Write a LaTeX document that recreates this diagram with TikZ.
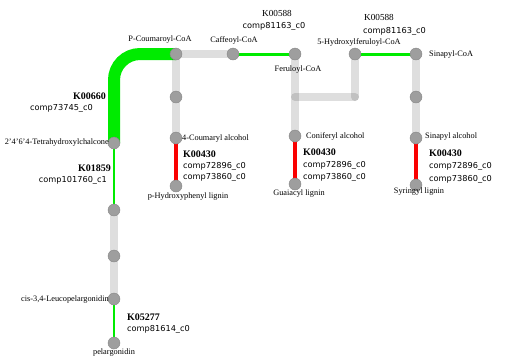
\documentclass[tikz,border=0pt]{standalone}
\usepackage{fontspec}
\setmainfont{Liberation Serif}
\newfontfamily\compfont{DejaVu Sans}
\usetikzlibrary{backgrounds}
\definecolor{pgreen}{RGB}{0,235,0}
\definecolor{pred}{RGB}{250,0,0}
\definecolor{pcirc}{RGB}{158,158,158}
\definecolor{pcircb}{RGB}{135,135,135}
\tikzset{
  met/.style={circle,fill=pcirc,draw=pcircb,line width=0.4pt,minimum size=12pt,inner sep=0pt},
  graylink/.style={line width=8pt,draw=black,draw opacity=0.13,line cap=round},
  thickgreen/.style={line width=12pt,draw=pgreen,rounded corners=26pt},
  thingreen/.style={line width=3pt,draw=pgreen},
  redlink/.style={line width=4.5pt,draw=pred},
  lbl/.style={inner sep=0pt,font=\fontsize{8.3}{9}\selectfont},
  knum/.style={inner sep=0pt,font=\fontsize{10}{11}\selectfont\bfseries},
  kplain/.style={inner sep=0pt,font=\fontsize{9.2}{10}\selectfont},
  comp/.style={inner sep=0pt,font=\compfont\fontsize{8.2}{9}\selectfont},
}
\begin{document}
\begin{tikzpicture}[x=1pt,y=-1pt]
\useasboundingbox (0,0) rectangle (515,360);
% metabolite nodes
\node[met] (pc) at (176,54) {};
\node[met] (caf) at (233,54) {};
\node[met] (fer) at (295,54) {};
\node[met] (hfer) at (355,54) {};
\node[met] (sin) at (416,54) {};
\node[met] (cm) at (176,97) {};
\node[met] (cal) at (176,138) {};
\node[met] (phl) at (176,186) {};
\node[met] (con) at (295,136) {};
\node[met] (gua) at (295,184) {};
\node[met] (sm) at (416,97) {};
\node[met] (sal) at (416,138) {};
\node[met] (syr) at (416,185) {};
\node[met] (chal) at (114,143) {};
\node[met] (n1) at (114,210) {};
\node[met] (n2) at (114,256) {};
\node[met] (leu) at (114,299) {};
\node[met] (pel) at (114,343) {};
\coordinate (j1) at (295,97);
\coordinate (j2) at (355,97);
% connectors
\begin{pgfonlayer}{background}
\draw[thickgreen] (chal.center) |- (pc.center);
\draw[graylink] (pc.center) -- (caf.center);
\draw[thingreen] (caf.center) -- (fer.center);
\draw[thingreen] (hfer.center) -- (sin.center);
\draw[graylink] (pc.center) -- (cm.center);
\draw[graylink] (cm.center) -- (cal.center);
\draw[redlink] (cal.center) -- (phl.center);
\draw[graylink] (fer.center) -- (con.center);
\draw[graylink] (j1) -- (j2);
\draw[graylink] (j2) -- (hfer.center);
\draw[redlink] (con.center) -- (gua.center);
\draw[graylink] (sin.center) -- (sm.center);
\draw[graylink] (sm.center) -- (sal.center);
\draw[redlink] (sal.center) -- (syr.center);
\draw[thingreen,line width=2.5pt] (chal.center) -- (n1.center);
\draw[graylink] (n1.center) -- (n2.center);
\draw[graylink] (n2.center) -- (leu.center);
\draw[thingreen,line width=2.5pt] (leu.center) -- (pel.center);
\end{pgfonlayer}
% metabolite labels
\node[lbl] (tpc) at (160,40) {P-Coumaroyl-CoA};
\node[lbl] (tcaf) at (234,40) {Caffeoyl-CoA};
\node[lbl] (tfer) at (298,70) {Feruloyl-CoA};
\node[lbl] (thfer) at (359,42) {5-Hydroxylferuloyl-CoA};
\node[lbl,anchor=west] (tsin) at (429,55) {Sinapyl-CoA};
\node[lbl,anchor=east] (tchal) at (109,143) {2'4'6'4-Tetrahydroxylchalcone};
\node[lbl,anchor=east] (tleu) at (109,300) {cis-3,4-Leucopelargonidin};
\node[lbl] (tpel) at (114,353) {pelargonidin};
\node[lbl,anchor=west] (tcal) at (182,139) {4-Coumaryl alcohol};
\node[lbl] (tphl) at (188,197) {p-Hydroxyphenyl lignin};
\node[lbl,anchor=west] (tcon) at (306,136) {Coniferyl alcohol};
\node[lbl] (tgua) at (299,194) {Guaiacyl lignin};
\node[lbl,anchor=west] (tsal) at (425,137) {Sinapyl alcohol};
\node[lbl] (tsyr) at (419,192) {Syringyl lignin};
% enzyme labels
\node[kplain] (k1) at (277,13) {K00588};
\node[comp] (c1) at (274,26) {comp81163\_c0};
\node[kplain] (k2) at (379,17) {K00588};
\node[comp,anchor=west] (c2) at (363,31) {comp81163\_c0};
\node[knum,anchor=east] (k3) at (106,96) {K00660};
\node[comp,anchor=east] (c3) at (93,108) {comp73745\_c0};
\node[knum,anchor=east] (k4) at (111,168) {K01859};
\node[comp,anchor=east] (c4) at (107,180) {comp101760\_c1};
\node[knum,anchor=west] (k5) at (127,317) {K05277};
\node[comp,anchor=west] (c5) at (127,329) {comp81614\_c0};
\node[knum,anchor=west] (k6) at (183,154) {K00430};
\node[comp,anchor=west] (c6a) at (183,166) {comp72896\_c0};
\node[comp,anchor=west] (c6b) at (183,177) {comp73860\_c0};
\node[knum,anchor=west] (k7) at (303,152) {K00430};
\node[comp,anchor=west] (c7a) at (303,165) {comp72896\_c0};
\node[comp,anchor=west] (c7b) at (303,177) {comp73860\_c0};
\node[knum,anchor=west] (k8) at (429,153) {K00430};
\node[comp,anchor=west] (c8a) at (429,166) {comp72896\_c0};
\node[comp,anchor=west] (c8b) at (429,179) {comp73860\_c0};
\end{tikzpicture}
\end{document}
